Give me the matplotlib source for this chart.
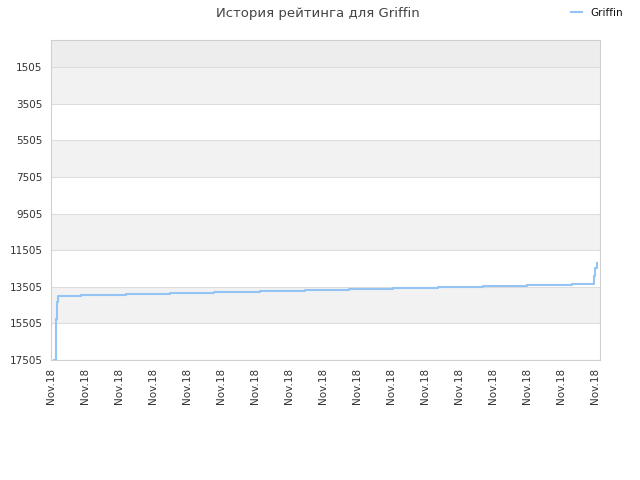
import matplotlib.pyplot as plt

# step data (x in tick units, rank values)
xs = [0.09, 0.13, 0.15, 0.17, 0.19, 0.22, 0.87, 2.21, 3.50, 4.80, 6.15, 7.47,
      8.76, 10.06, 11.38, 12.70, 14.00, 15.32, 15.97, 16.01, 16.05, 16.06]
ranks = [17505, 17505, 15267, 14955, 14354, 13994, 13940, 13885, 13830, 13776, 13721, 13667,
         13612, 13557, 13503, 13448, 13394, 13340, 12900, 12500, 12200, 12200]
tick_labels = ["Nov.18"] * 17
yticks = [1505, 3505, 5505, 7505, 9505, 11505, 13505, 15505, 17505]

fig = plt.figure(figsize=(6.4, 4.8), dpi=100)
ax = fig.add_axes([51/640, 120/480, 549/640, 320/480])

ytop = 30
ax.axhspan(ytop, 1505, color="#ededed", zorder=0, lw=0)
for i in range(len(yticks) - 1):
    if i % 2 == 0:
        ax.axhspan(yticks[i], yticks[i + 1], color="#f2f2f2", zorder=0, lw=0)
for y in yticks:
    ax.axhline(y, color="#dddddd", lw=0.8, zorder=1)

ax.plot(xs, ranks, drawstyle="steps-post", color="#94c4f4", lw=1.5, zorder=3, label="Griffin")

ax.set_ylim(17505, ytop)
ax.set_xlim(0, 16.15)
ax.set_yticks(yticks)
ax.set_yticklabels([str(v) for v in yticks])
ax.set_xticks(range(17))
ax.set_xticklabels(tick_labels, rotation=90)
ax.tick_params(length=0, labelsize=7.5, colors="#333333", pad=6)
for s in ax.spines.values():
    s.set_color("#d0d0d0")

fig.text(318/640, 1 - 13/480, "История рейтинга для Griffin", ha="center", va="center",
         fontsize=9.5, color="#444444")
leg = fig.legend(loc="center right", bbox_to_anchor=(632/640, 1 - 13/480), frameon=False,
                 fontsize=7.5, handlelength=1.0, handletextpad=0.8)
for t in leg.get_texts():
    t.set_color("#111111")

fig.savefig("out.png", dpi=100)
